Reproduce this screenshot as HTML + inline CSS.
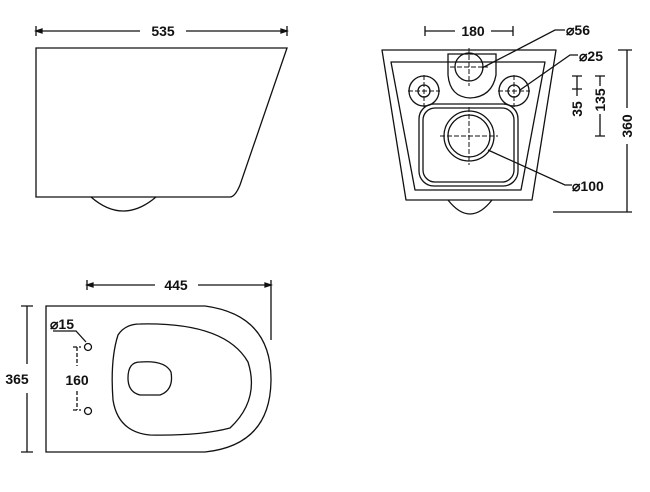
<!DOCTYPE html>
<html><head><style>body{margin:0;background:#fff}svg{display:block}text{font-family:"Liberation Sans",Arial,sans-serif;font-weight:bold;font-size:14px;fill:#111}</style></head>
<body>
<svg width="650" height="492" viewBox="0 0 650 492" xmlns="http://www.w3.org/2000/svg" fill="none" stroke="#111" stroke-width="1.3">
<!-- side view -->
<path d="M36 31H140M186 31H287M36 26V36M287 26V36"/>
<path d="M36 31l6-2v4zM287 31l-6-2v4z" fill="#111"/>
<text x="163" y="36" text-anchor="middle" stroke="none">535</text>
<path d="M36 48H287L240 185Q235 197 230 197H36Z"/>
<path d="M91 197Q123 225 156 197"/>
<!-- front view -->
<path d="M425 31H455M491 31H513M425 26V36M513 26V36"/>
<text x="473" y="36" text-anchor="middle" stroke="none">180</text>
<path d="M382 50H556L532 200H406Z" stroke-linejoin="round"/>
<path d="M391 62H545L521 190H415Z" stroke-linejoin="round"/>
<path d="M448 200Q470 228 492 200"/>
<path d="M448 54H496V75Q492 97 470 98Q450 97 448 75Z"/>
<circle cx="469" cy="67" r="14"/>
<circle cx="424" cy="91" r="15"/><circle cx="424" cy="91" r="6"/>
<circle cx="514" cy="91" r="15"/><circle cx="514" cy="91" r="6"/>
<rect x="419" y="104" width="99" height="82" rx="15"/>
<rect x="423" y="108" width="91" height="74" rx="12"/>
<circle cx="469" cy="136" r="25"/><circle cx="469" cy="136" r="21"/>
<g stroke-dasharray="5,2" stroke-width="1">
<path d="M450 67H488M469 48V86M408 91H440M424 75V107M498 91H530M514 75V107M440 136H498M469 107V165"/>
</g>
<path d="M482 68L555 30H565M520 90L570 55H578M488 150L565 185H572"/>
<text x="566" y="35" stroke="none">⌀56</text>
<text x="579" y="61" stroke="none">⌀25</text>
<text x="572" y="191" stroke="none">⌀100</text>
<path d="M577 76V96M572 76H582M572 89H582"/>
<text transform="translate(582 109) rotate(-90)" text-anchor="middle" stroke="none">35</text>
<path d="M600 76V86M600 114V136M595 76H605M595 136H605"/>
<text transform="translate(605 100) rotate(-90)" text-anchor="middle" stroke="none">135</text>
<path d="M627 50V108M627 144V212M618 50H632M553 212H632"/>
<text transform="translate(632 126) rotate(-90)" text-anchor="middle" stroke="none">360</text>
<!-- plan view -->
<path d="M87 285H155M198 285H271M87 280V290M271 280V340"/>
<path d="M87 285l6-2v4zM271 285l-6-2v4z" fill="#111"/>
<text x="176" y="290" text-anchor="middle" stroke="none">445</text>
<path d="M27 306V364M27 393V452M21 306H33M21 452H33"/>
<text x="17" y="384" text-anchor="middle" stroke="none">365</text>
<path d="M46 306H205Q271 315 271 379Q271 445 205 452H46Z"/>
<path d="M140 324Q225 322 248 362Q260 400 230 428Q200 436 150 435Q118 432 113 400Q110 360 118 335Q125 324 140 324Z"/>
<path d="M140 362Q165 360 171 372Q174 390 160 395H140Q128 392 128 378Q128 362 140 362Z"/>
<circle cx="88" cy="347" r="3.5"/><circle cx="88" cy="411" r="3.5"/>
<path d="M53 331H76L86 342"/>
<text x="50" y="329" stroke="none">⌀15</text>
<path d="M77 347V366M77 391V410M73 347H81M73 410H81" stroke-dasharray="4,2"/>
<text x="77" y="385" text-anchor="middle" stroke="none">160</text>
</svg>
</body></html>
